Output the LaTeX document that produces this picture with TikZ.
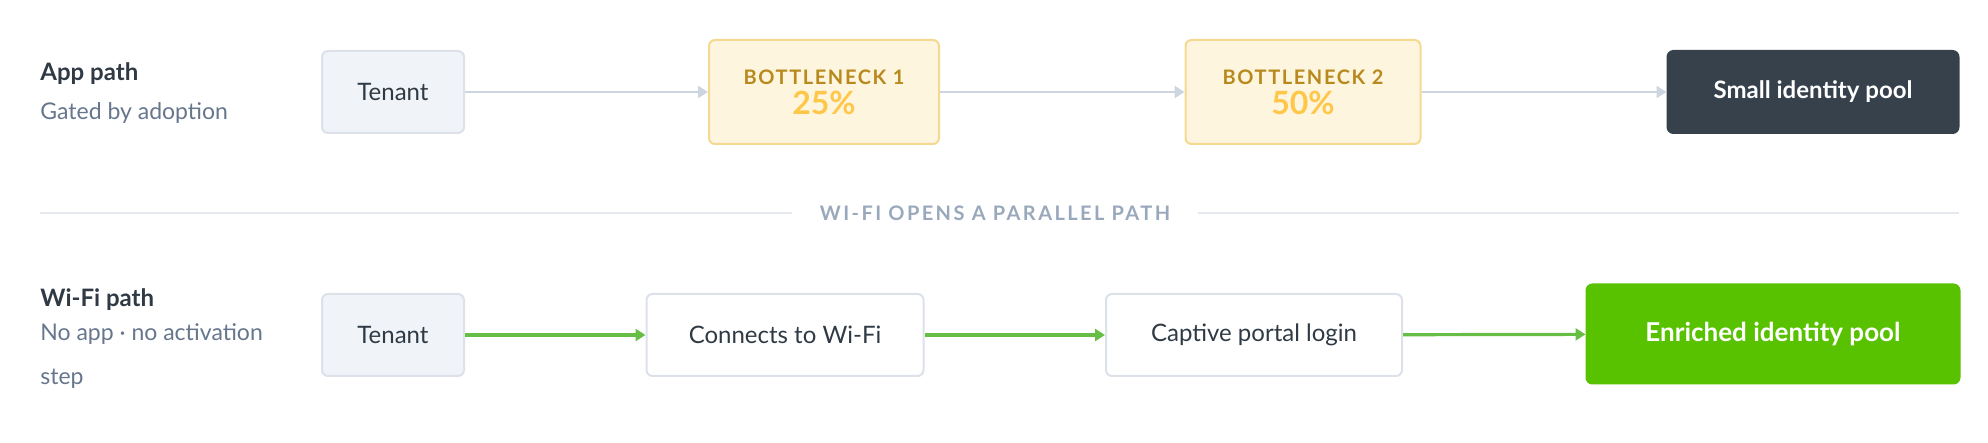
\documentclass[tikz,border=0pt]{standalone}
\usepackage{fontspec}
\setmainfont{Lato}
\usetikzlibrary{arrows.meta}
\definecolor{txt}{HTML}{2F3A45}
\definecolor{sub}{HTML}{66768C}
\definecolor{tfill}{HTML}{F0F3F8}
\definecolor{tline}{HTML}{DCE1EA}
\definecolor{bfill}{HTML}{FEF5DE}
\definecolor{bline}{HTML}{F5D991}
\definecolor{blab}{HTML}{B8891C}
\definecolor{bpct}{HTML}{FFC74A}
\definecolor{dark}{HTML}{36414B}
\definecolor{green}{HTML}{58C200}
\definecolor{garrow}{HTML}{66BE45}
\definecolor{grey}{HTML}{CCD5E0}
\definecolor{divtxt}{HTML}{9AA8BC}
\definecolor{divline}{HTML}{E5E8EE}
\begin{document}
\begin{tikzpicture}[x=0.5pt,y=-0.5pt,
  box/.style={draw, rounded corners=3pt, line width=1pt, inner sep=0pt, font=\fontsize{12}{14}\selectfont, text=txt},
  tenant/.style={box, fill=tfill, draw=tline},
  bn/.style={box, fill=bfill, draw=bline, align=center},
  wbox/.style={box, fill=white, draw=tline},
  greyarrow/.style={draw=grey, line width=1.2pt, -{Triangle[length=5pt,width=6pt]}},
  gnarrow/.style={draw=garrow, line width=1.6pt, -{Triangle[length=5pt,width=6pt]}},
  ttl/.style={anchor=west, font=\fontsize{12}{14}\selectfont\bfseries, text=txt, inner sep=0pt},
  stl/.style={anchor=west, font=\fontsize{11.5}{22}\selectfont, text=sub, inner sep=0pt, align=left}
]
\useasboundingbox (0,0) rectangle (1988,443);
% App row
\node[ttl] (at) at (40,74) {App path};
\node[stl] (as) at (40,113) {Gated by adoption};
\node[tenant, minimum width=71pt, minimum height=41pt] (t1) at (393,92) {Tenant};
\node[bn, minimum width=115pt, minimum height=52pt] (b1) at (824,92)
  {{\fontsize{10}{12}\selectfont\bfseries\addfontfeatures{LetterSpace=8}\color{blab}BOTTLENECK 1}\\[1pt]{\fontsize{16}{18}\selectfont\bfseries\color{bpct}25\%}};
\node[bn, minimum width=117.5pt, minimum height=52pt] (b2) at (1303,92)
  {{\fontsize{10}{12}\selectfont\bfseries\addfontfeatures{LetterSpace=8}\color{blab}BOTTLENECK 2}\\[1pt]{\fontsize{16}{18}\selectfont\bfseries\color{bpct}50\%}};
\node[box, fill=dark, draw=dark, text=white, minimum width=145.5pt, minimum height=41pt] (sp) at (1813,92) {\bfseries Small identity pool};
\draw[greyarrow] (t1) -- (b1);
\draw[greyarrow] (b1) -- (b2);
\draw[greyarrow] (b2) -- (sp);
% divider
\node[font=\fontsize{10}{12}\selectfont\bfseries\addfontfeatures{LetterSpace=12}, text=divtxt, inner sep=0pt] (dv) at (995,213) {WI-FI OPENS A PARALLEL PATH};
\coordinate (dl) at (40,213);
\coordinate (dr) at (1959,213);
\draw[divline, line width=1.2pt] (dl) -- ([xshift=-14pt]dv.west);
\draw[divline, line width=1.2pt] ([xshift=14pt]dv.east) -- (dr);
% Wi-Fi row
\node[ttl] (wt) at (40,300) {Wi-Fi path};
\node[stl] (ws) at (40,356) {No app · no activation\\step};
\node[tenant, minimum width=71pt, minimum height=41pt] (t2) at (393,335) {Tenant};
\node[wbox, minimum width=138.5pt, minimum height=41pt] (cw) at (785,335) {Connects to Wi-Fi};
\node[wbox, minimum width=148pt, minimum height=41pt] (cp) at (1254,335) {Captive portal login};
\node[box, fill=green, draw=green, text=white, minimum width=186.5pt, minimum height=49.5pt, font=\fontsize{13}{15}\selectfont\bfseries] (ep) at (1773,334) {Enriched identity pool};
\draw[gnarrow] (t2) -- (cw);
\draw[gnarrow] (cw) -- (cp);
\draw[gnarrow] (cp) -- (ep);
\end{tikzpicture}
\end{document}
